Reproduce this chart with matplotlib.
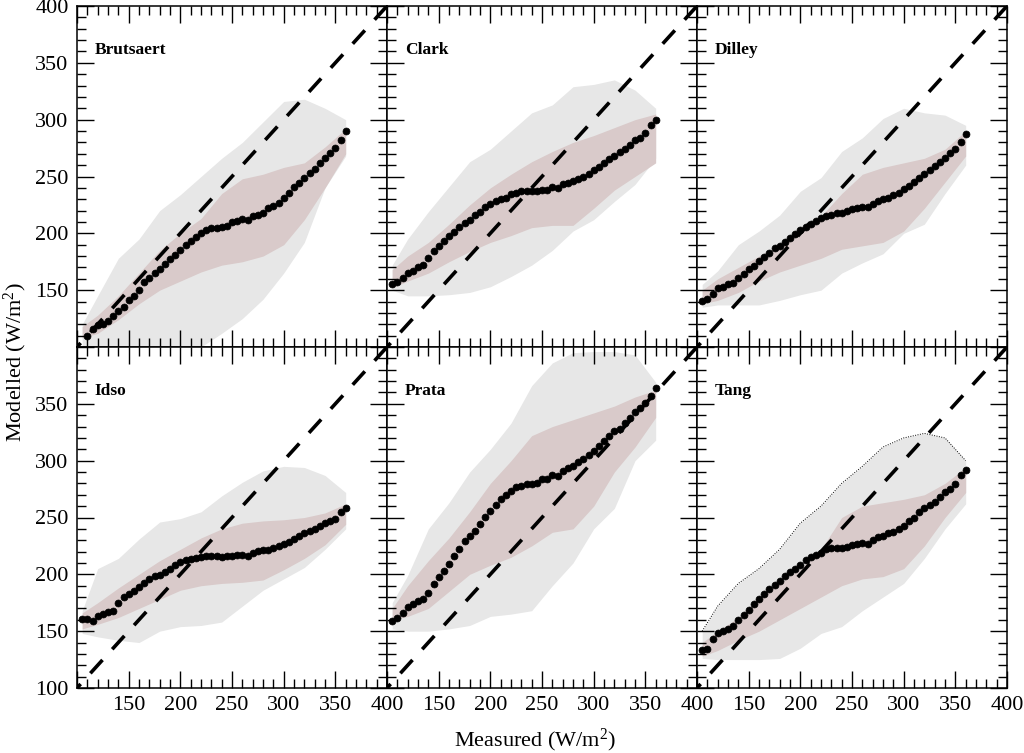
import numpy as np
import matplotlib
matplotlib.use("Agg")
import matplotlib.pyplot as plt
from matplotlib.ticker import MultipleLocator, FuncFormatter

plt.rcParams['font.family'] = ['Liberation Serif', 'DejaVu Serif']
plt.rcParams['mathtext.default'] = 'regular'

# ---------------- data ----------------
models = ["Brutsaert", "Clark", "Dilley", "Idso", "Prata", "Tang"]

measured = [105, 110, 115, 120, 125, 130, 135, 140, 145, 150, 155, 160, 165, 170,
            175, 180, 185, 190, 195, 200, 205, 210, 215, 220, 225, 230, 235, 240,
            245, 250, 255, 260, 265, 270, 275, 280, 285, 290, 295, 300, 305, 310,
            315, 320, 325, 330, 335, 340, 345, 350, 355, 360]

brutsaert_med = [np.nan, 110, 116, 119, 120, 123, 127, 131.5, 135, 141, 145, 150, 157, 161,
                 165, 169, 173, 177.5, 181, 185.5, 190, 193, 197, 200, 203, 204.5, 205, 205.2,
                 206.5, 210, 210.5, 212.5, 212, 215, 216.5, 218, 222, 224, 227, 231, 235.5, 240.5,
                 244.5, 248.5, 253, 256.5, 262, 266, 270.5, 275, 282, 290]
clark_med = [155.5, 157, 160.5, 164.8, 166.8, 170, 172.5, 178, 184.5, 188.5, 193, 197.5, 201, 205.5,
             209.5, 212, 216, 219, 222.8, 225.4, 228.4, 230.4, 231.5, 234.3, 235.8, 237, 237, 237,
             237.5, 238.4, 238.5, 241, 239.6, 243, 244.7, 246, 247.6, 249.2, 252.5, 255.6, 258.6, 262,
             265.2, 268.2, 271.3, 274.3, 277.3, 281.7, 284.3, 288.5, 295.5, 300]
dilley_med = [140.5, 142.5, 147, 151.5, 152.5, 155.2, 156.5, 160.6, 164.5, 168.3, 171.5, 175.5, 179.2, 183,
              186.8, 189, 192, 196, 199.5, 202.5, 205.8, 208.5, 211.2, 213.5, 215.5, 216.5, 217.5, 218.2,
              219.7, 221, 222, 223.5, 223.3, 226, 228.2, 229.8, 231.3, 233.7, 235.8, 238.6, 241.4, 245.4,
              248.8, 252.3, 256, 259.5, 263, 266.7, 270.5, 274.2, 280.5, 287.5]
idso_med = [161, 160.5, 159, 163.5, 165, 166.8, 168, 175, 180.3, 183, 185.5, 188.5, 192.2, 196,
            198.4, 199.8, 202, 205, 207.8, 210.8, 212.2, 213.6, 214.5, 215, 215.9, 215.9, 215.9, 215,
            216.5, 216.5, 217.1, 217.1, 216.5, 218.8, 220.3, 221.5, 221.8, 222.9, 224.7, 226.7, 228.8, 231.1,
            234, 236.1, 237.8, 239.9, 242.8, 245.2, 247.2, 248.7, 254.5, 258]
prata_med = [159, 161.3, 166, 171.5, 173.5, 176.5, 178.4, 184, 191.5, 198, 203, 209.5, 216, 222.5,
             229, 233.5, 238.5, 244, 250.5, 256, 261, 266.3, 269.7, 273.5, 276.4, 278, 279.3, 279.3,
             280.5, 283.7, 283.7, 287, 286.5, 290.5, 293.8, 295.4, 298.4, 301.3, 304.6, 308.3, 313, 317.2,
             322, 326, 327.8, 333, 337.5, 342.5, 346.6, 350.5, 357, 364]
tang_med = [133, 134, 143, 148, 150.3, 152, 154.5, 159.5, 164.5, 169, 173.5, 178.5, 182.5, 187.5,
            190.5, 194.5, 198.5, 202.3, 205, 208.5, 212.3, 215.2, 216.8, 219.2, 222, 222.9, 222.9, 223,
            224, 225.5, 226.9, 228, 227, 230.5, 233.2, 234, 236.5, 237.5, 240, 242.5, 246.5, 249.5,
            254.5, 258, 261, 264, 267.7, 272, 275, 279.5, 287, 292]

band_x = [105, 120, 140, 160, 180, 200, 220, 240, 260, 280, 300, 320, 340, 360]

brutsaert_p05 = [100, 100, 100, 100, 100, 100, 100, 112, 125, 142, 165, 192, 240, 268]
brutsaert_p25 = [108, 112, 124, 138, 150, 158, 166, 172, 175, 180, 190, 212, 240, 270]
brutsaert_p75 = [118, 128, 145, 165, 185, 200, 213, 235, 248, 252, 258, 262, 276, 292]
brutsaert_p95 = [120, 145, 178, 195, 220, 234, 250, 266, 280, 298, 316, 318, 310, 300]

clark_p05 = [150, 145, 145, 146, 148, 153, 162, 172, 185, 202, 212, 228, 243, 266]
clark_p25 = [152, 158, 165, 175, 184, 192, 198, 205, 207, 207, 222, 238, 250, 262]
clark_p75 = [168, 180, 192, 208, 225, 240, 252, 263, 272, 280, 286, 293, 300, 305]
clark_p95 = [172, 195, 219, 241, 263, 274, 290, 306, 313, 329, 331, 335, 326, 310]

dilley_p05 = [135, 137, 137, 137, 141, 146, 150, 165, 174, 182, 200, 208, 235, 260]
dilley_p25 = [138, 141, 148, 158, 166, 172, 178, 186, 189, 192, 202, 222, 245, 268]
dilley_p75 = [150, 160, 170, 180, 190, 200, 215, 235, 252, 258, 262, 266, 274, 290]
dilley_p95 = [155, 167, 190, 202, 216, 237, 249, 272, 284, 301, 310, 306, 304, 295]

idso_p05 = [148, 145, 142, 140, 150, 154, 155, 158, 172, 186, 196, 206, 222, 240]
idso_p25 = [152, 156, 162, 170, 178, 186, 190, 192, 193, 195, 204, 214, 226, 244]
idso_p75 = [166, 175, 188, 200, 212, 222, 232, 240, 245, 247, 248, 250, 254, 262]
idso_p95 = [168, 205, 214, 231, 246, 249, 255, 269, 281, 291, 295, 294, 287, 272]

prata_p05 = [152, 150, 150, 152, 155, 163, 165, 168, 190, 210, 240, 258, 300, 318]
prata_p25 = [160, 163, 170, 185, 200, 208, 215, 225, 237, 240, 260, 290, 312, 338]
prata_p75 = [170, 190, 212, 232, 255, 280, 300, 322, 330, 336, 342, 348, 356, 362]
prata_p95 = [175, 199, 240, 263, 290, 310, 333, 366, 386, 395, 396, 396, 393, 369]

tang_p05 = [126, 125, 125, 125, 126, 135, 148, 154, 168, 180, 192, 214, 240, 262]
tang_p25 = [128, 133, 142, 150, 160, 170, 180, 190, 196, 198, 205, 225, 250, 272]
tang_p75 = [140, 150, 162, 180, 192, 205, 222, 250, 260, 263, 266, 270, 280, 294]
tang_p95 = [150, 172, 192, 205, 222, 245, 260, 280, 295, 312, 320, 324, 320, 300]

one_to_one = [100, 400]

medians = [brutsaert_med, clark_med, dilley_med, idso_med, prata_med, tang_med]
bands = [
    (brutsaert_p05, brutsaert_p25, brutsaert_p75, brutsaert_p95),
    (clark_p05, clark_p25, clark_p75, clark_p95),
    (dilley_p05, dilley_p25, dilley_p75, dilley_p95),
    (idso_p05, idso_p25, idso_p75, idso_p95),
    (prata_p05, prata_p25, prata_p75, prata_p95),
    (tang_p05, tang_p25, tang_p75, tang_p95),
]

# ---------------- figure ----------------
W, H = 1024, 753
fig = plt.figure(figsize=(W / 100, H / 100), dpi=100)
col_x = [77, 387, 697]
row_top = [6, 347]
pw, ph = 310, 341

outer_col = '#e7e7e7'
inner_col = '#d9caca'

for i, name in enumerate(models):
    r, c = divmod(i, 3)
    ax = fig.add_axes([col_x[c] / W, 1 - (row_top[r] + ph) / H, pw / W, ph / H])
    p05, p25, p75, p95 = bands[i]
    ax.fill_between(band_x, p05, p95, color=outer_col, lw=0, zorder=1)
    ax.fill_between(band_x, p25, p75, color=inner_col, lw=0, zorder=1.5)
    if name == "Tang":
        ax.plot(band_x, p95, color='k', lw=0.7, ls=(0, (1, 1.5)), zorder=1.6)
    ax.plot(one_to_one, one_to_one, color='k', lw=2.6, ls=(3.5, (5.0, 4.0)),
            solid_capstyle='butt', dash_capstyle='butt', zorder=2)
    ax.plot(measured, medians[i], 'o', color='k', ms=5, mec='k', mew=0.5, zorder=3)

    ax.set_xlim(100, 400)
    ax.set_ylim(100, 400)
    ax.xaxis.set_major_locator(MultipleLocator(50))
    ax.xaxis.set_minor_locator(MultipleLocator(10))
    ax.yaxis.set_major_locator(MultipleLocator(50))
    ax.yaxis.set_minor_locator(MultipleLocator(10))
    ax.tick_params(which='both', direction='in', top=True, right=True,
                   labelsize=16, width=1.0)
    ax.tick_params(which='major', length=12, pad=6)
    ax.tick_params(which='minor', length=6.5)
    for sp in ax.spines.values():
        sp.set_linewidth(1.1)

    ax.xaxis.set_major_formatter(FuncFormatter(lambda v, p: '' if v < 101 else f'{v:.0f}'))
    if r == 0:
        ax.yaxis.set_major_formatter(FuncFormatter(lambda v, p: '' if v < 101 else f'{v:.0f}'))
        ax.tick_params(labelbottom=False)
    else:
        ax.yaxis.set_major_formatter(FuncFormatter(lambda v, p: '' if v > 399 else f'{v:.0f}'))
    if c != 0:
        ax.tick_params(labelleft=False)

    ax.text(0.057, 0.86, name, transform=ax.transAxes, fontsize=12.5,
            fontweight='bold', va='baseline', ha='left', zorder=4)

fig.text(535 / W, 1 - 740 / H, 'Measured (W/m$^2$)', ha='center', va='center', fontsize=16)
fig.text(15 / W, 1 - 362 / H, 'Modelled (W/m$^2$)', ha='center', va='center',
         rotation=90, fontsize=16)

fig.savefig('out.png', dpi=100)
